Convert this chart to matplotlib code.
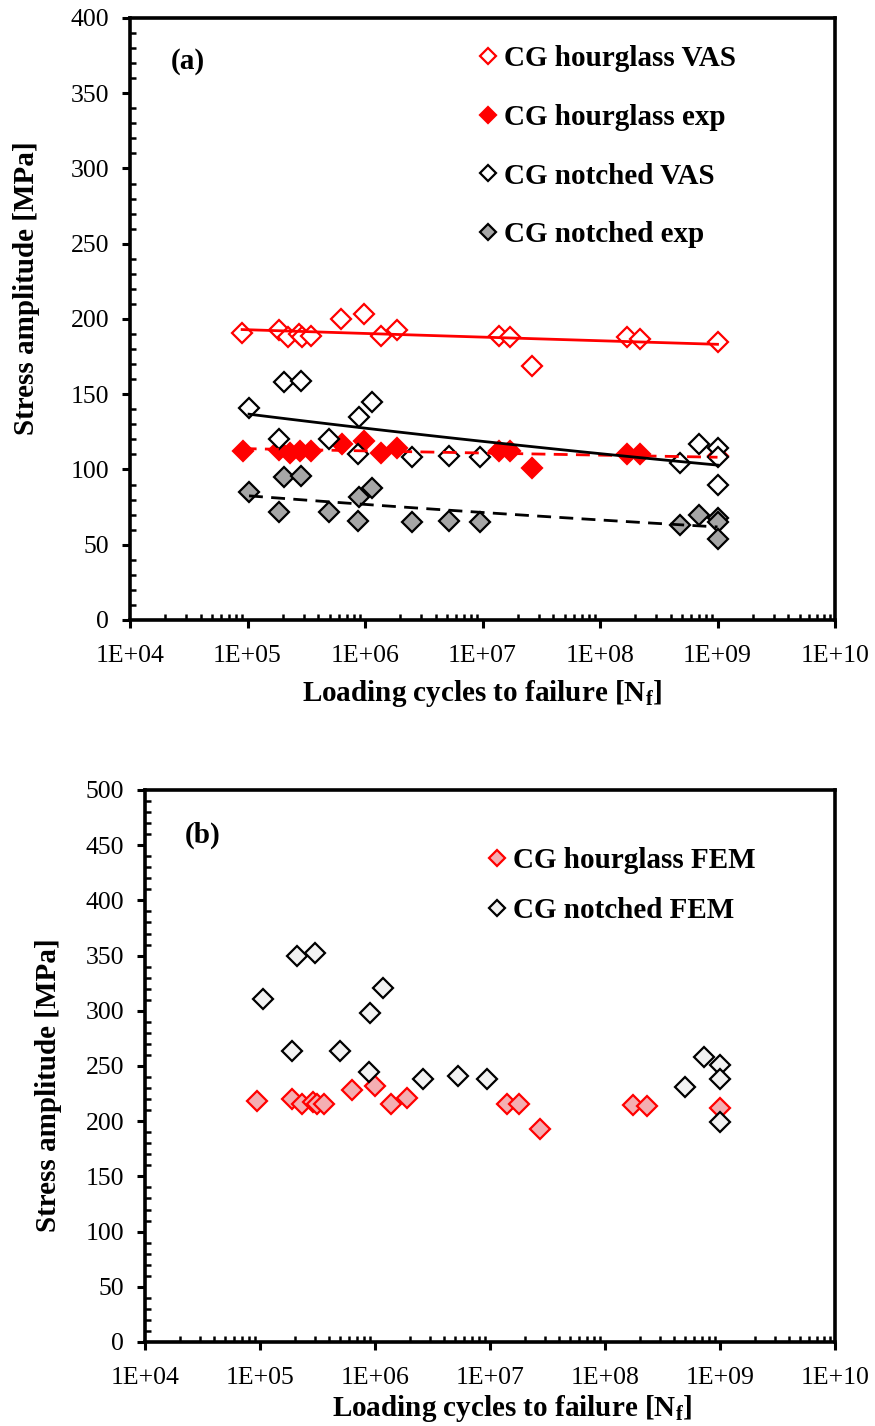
import numpy as np
import matplotlib
matplotlib.use("Agg")
import matplotlib.pyplot as plt
from matplotlib.ticker import FixedLocator, MultipleLocator, FuncFormatter, NullFormatter

plt.rcParams['font.family'] = ['Liberation Serif', 'DejaVu Serif']
plt.rcParams['mathtext.fontset'] = 'custom'
plt.rcParams['mathtext.rm'] = 'Liberation Serif'
plt.rcParams['mathtext.bf'] = 'Liberation Serif:bold'
plt.rcParams['mathtext.it'] = 'Liberation Serif:italic'

# ---- (a) hourglass specimens: VAS prediction and experiment ----
hg_vas_N = [9.0e4, 1.85e5, 2.2e5, 2.75e5, 2.9e5, 3.5e5, 6.25e5, 9.8e5, 1.37e6, 1.87e6,
            1.38e7, 1.7e7, 2.63e7, 1.7e8, 2.2e8, 1.0e9]
hg_vas_S = [191, 193, 188, 190, 188, 189, 200, 203, 189, 193,
            189, 188, 169, 188, 187, 185]

hg_exp_N = [9.1e4, 1.85e5, 2.3e5, 2.8e5, 3.5e5, 6.4e5, 9.8e5, 1.37e6, 1.87e6,
            1.38e7, 1.7e7, 2.63e7, 1.7e8, 2.2e8, 1.0e9]
hg_exp_S = [112, 113, 111, 112, 112, 117, 119, 111, 114,
            112, 112, 101, 110, 110, 109]

# ---- (a) notched specimens: VAS prediction and experiment ----
nt_N = [1.03e5, 1.85e5, 2.04e5, 2.87e5, 4.9e5, 8.8e5, 8.9e5, 1.15e6, 2.5e6, 5.2e6,
        9.5e6, 4.8e8, 6.9e8, 1.0e9, 1.0e9, 1.0e9]
nt_vas_S = [141, 120, 158, 159, 120, 110, 135, 145, 108, 109,
            108, 104, 117, 114, 108, 90]
nt_exp_S = [85, 72, 95, 96, 72, 66, 82, 88, 65, 66,
            65, 63, 70, 68, 65, 54]

# ---- (b) FEM results ----
hg_fem_N = [9.4e4, 1.9e5, 2.3e5, 2.9e5, 3.1e5, 3.6e5, 6.3e5, 1.0e6, 1.38e6, 1.9e6,
            1.4e7, 1.8e7, 2.7e7, 1.75e8, 2.3e8, 1.0e9]
hg_fem_S = [218, 220, 216, 217, 216, 216, 228, 232, 216, 221,
            216, 216, 193, 215, 214, 212]

nt_fem_N = [1.06e5, 1.9e5, 2.1e5, 3.0e5, 5.0e5, 8.9e5, 9.1e5, 1.17e6, 2.6e6, 5.3e6,
            9.5e6, 5.0e8, 7.2e8, 1.0e9, 1.0e9, 1.0e9]
nt_fem_S = [311, 264, 350, 352, 264, 245, 298, 321, 238, 241,
            238, 231, 258, 251, 238, 199]

labels_a = ['CG hourglass VAS', 'CG hourglass exp', 'CG notched VAS', 'CG notched exp']
labels_b = ['CG hourglass FEM', 'CG notched FEM']

# decade tick positions along the cycles axis
x_decades = [1e4, 1e5, 1e6, 1e7, 1e8, 1e9, 1e10]

RED = '#ff0000'
GREY = '#a6a6a6'
PINK = '#f4aeb2'
LIGHT = '#f2f2f2'

MS = 10.5
MEW = 1.6
LW = 2.0
TICK_FS = 18.5
LABEL_FS = 21


def power_fit(N, S):
    """Power-law trend line S = c * N**b, sampled over the data range."""
    b, logc = np.polyfit(np.log10(N), np.log10(S), 1)
    xs = np.logspace(np.log10(min(N)), np.log10(max(N)), 60)
    return xs, 10 ** logc * xs ** b


def style_axes(ax, ymax):
    ax.set_xscale('log')
    ax.set_xlim(x_decades[0], x_decades[-1])
    ax.set_ylim(0, ymax)
    minors = [d * k for d in x_decades[:-1] for k in range(2, 10)]
    ax.xaxis.set_major_locator(FixedLocator(x_decades))
    ax.xaxis.set_minor_locator(FixedLocator(minors))
    ax.xaxis.set_major_formatter(FuncFormatter(lambda v, p: '1E+%02d' % int(round(np.log10(v)))))
    ax.xaxis.set_minor_formatter(NullFormatter())
    ax.yaxis.set_major_locator(MultipleLocator(50))
    ax.yaxis.set_minor_locator(MultipleLocator(10))
    for sp in ax.spines.values():
        sp.set_linewidth(2.6)
        sp.set_color('black')
    ax.tick_params(which='major', direction='out', length=6, width=2.2,
                   labelsize=TICK_FS, pad=9)
    ax.tick_params(which='minor', direction='in', length=4.5, width=1.8)
    ax.tick_params(axis='x', which='major', pad=12)


fig = plt.figure(figsize=(8.75, 14.26), dpi=100)

# ---------------- panel (a) ----------------
ax1 = fig.add_axes([130 / 875, 1 - 620 / 1426, 705 / 875, 602 / 1426])
style_axes(ax1, 400)

h1, = ax1.plot(hg_vas_N, hg_vas_S, 'D', ms=MS, mew=MEW, mfc='white', mec=RED, ls='none', zorder=2)
h2, = ax1.plot(hg_exp_N, hg_exp_S, 'D', ms=MS, mew=MEW, mfc=RED, mec=RED, ls='none', zorder=2)
h3, = ax1.plot(nt_N, nt_vas_S, 'D', ms=MS, mew=MEW, mfc='white', mec='black', ls='none', zorder=2)
h4, = ax1.plot(nt_N, nt_exp_S, 'D', ms=MS, mew=MEW, mfc=GREY, mec='black', ls='none', zorder=2)

x, y = power_fit(hg_vas_N, hg_vas_S)
ax1.plot(x, y, color=RED, lw=LW, zorder=3)
x, y = power_fit(hg_exp_N, hg_exp_S)
ax1.plot(x, y, color=RED, lw=LW, ls=(0, (5, 3)), zorder=3)
x, y = power_fit(nt_N, nt_vas_S)
ax1.plot(x, y, color='black', lw=LW, zorder=3)
x, y = power_fit(nt_N, nt_exp_S)
ax1.plot(x, y, color='black', lw=LW, ls=(0, (5, 3)), zorder=3)

ax1.set_ylabel('Stress amplitude [MPa]', fontsize=LABEL_FS, fontweight='bold')
ax1.set_xlabel(r'Loading cycles to failure [N$_{\mathbf{f}}$]', fontsize=LABEL_FS, fontweight='bold')
ax1.yaxis.set_label_coords(-0.128, 0.551)
ax1.xaxis.set_label_coords(0.499, -0.097)
ax1.text(0.082, 0.927, '(a)', transform=ax1.transAxes, fontsize=LABEL_FS,
         fontweight='bold', ha='center', va='center')

ax1.legend([h1, h2, h3, h4], labels_a, loc='upper left',
           bbox_to_anchor=(0.491, 0.955), frameon=False, borderaxespad=0,
           borderpad=0, handlelength=0.8, handletextpad=0.15,
           labelspacing=1.09, markerscale=0.75,
           prop={'size': LABEL_FS, 'weight': 'bold'})

# ---------------- panel (b) ----------------
ax2 = fig.add_axes([145 / 875, 1 - 1342 / 1426, 690 / 875, 552 / 1426])
style_axes(ax2, 500)

g1, = ax2.plot(hg_fem_N, hg_fem_S, 'D', ms=MS, mew=MEW, mfc=PINK, mec=RED, ls='none', zorder=2)
g2, = ax2.plot(nt_fem_N, nt_fem_S, 'D', ms=MS, mew=MEW, mfc=LIGHT, mec='black', ls='none', zorder=2)

ax2.set_ylabel('Stress amplitude [MPa]', fontsize=LABEL_FS, fontweight='bold')
ax2.set_xlabel(r'Loading cycles to failure [N$_{\mathbf{f}}$]', fontsize=LABEL_FS, fontweight='bold')
ax2.yaxis.set_label_coords(-0.120, 0.466)
ax2.xaxis.set_label_coords(0.532, -0.093)
ax2.text(0.083, 0.917, '(b)', transform=ax2.transAxes, fontsize=LABEL_FS,
         fontweight='bold', ha='center', va='center')

ax2.legend([g1, g2], labels_b, loc='upper left',
           bbox_to_anchor=(0.493, 0.897), frameon=False, borderaxespad=0,
           borderpad=0, handlelength=0.8, handletextpad=0.15,
           labelspacing=0.79, markerscale=0.75,
           prop={'size': LABEL_FS, 'weight': 'bold'})

fig.savefig('out.png', dpi=100)
